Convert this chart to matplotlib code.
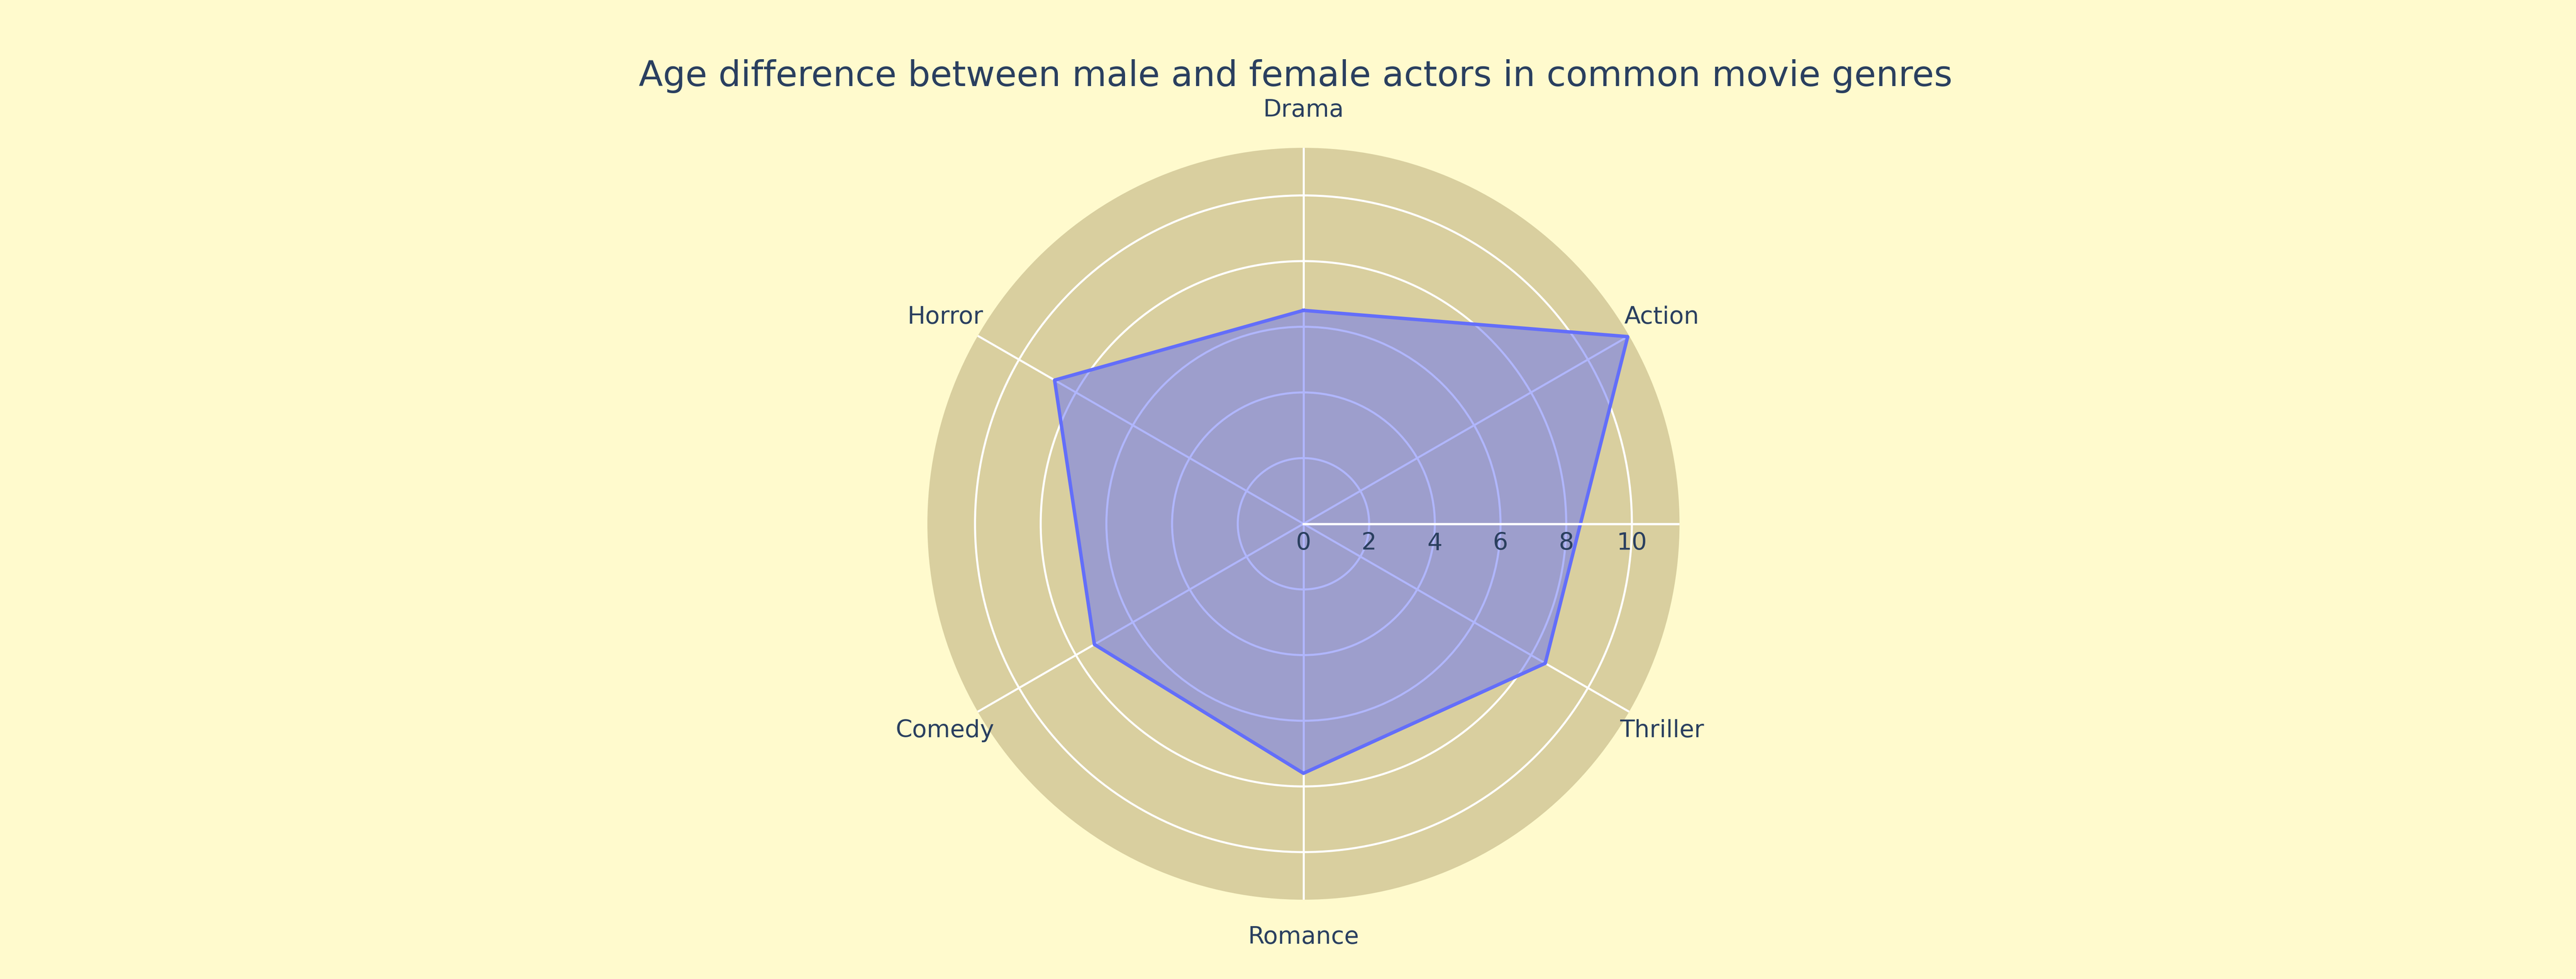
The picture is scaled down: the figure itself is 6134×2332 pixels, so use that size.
import numpy as np
import matplotlib.pyplot as plt

genres = ["Drama", "Action", "Thriller", "Romance", "Comedy", "Horror"]
age_diff = [6.5, 11.4, 8.5, 7.6, 7.35, 8.75]
rticks = [0, 2, 4, 6, 8, 10]
rmax = 11.45

txt = "#2a3f5f"
fig = plt.figure(figsize=(6134 / 391.2, 2332 / 391.2), dpi=391.2, facecolor="#fffacd")
ax = fig.add_axes([0.36, 0.081, 0.292, 0.768], projection="polar")
ax.set_facecolor("#d9cf9f")
ax.set_theta_zero_location("N")
ax.set_theta_direction(-1)
ang = np.linspace(0, 2 * np.pi, len(genres), endpoint=False)
closed_a = np.append(ang, ang[0])
closed_v = age_diff + age_diff[:1]
ax.fill(closed_a, closed_v, color="#636efa", alpha=0.5, zorder=3, lw=0)
ax.plot(closed_a, closed_v, color="#636efa", lw=1.5, zorder=4)
ax.set_ylim(0, rmax)
ax.set_xticks(ang)
ax.set_xticklabels(genres, color=txt, fontsize=10.5)
ax.tick_params(axis="x", pad=6)
ax.set_yticks(rticks[1:])
ax.set_yticklabels([])
ax.grid(color="white", lw=0.9, zorder=2)
ax.spines["polar"].set_visible(False)
ax.plot([np.pi / 2, np.pi / 2], [0, rmax], color="white", lw=1, zorder=5)
for r in rticks:
    ax.text(np.pi / 2, r, str(r), transform=ax.transData, color=txt, fontsize=10.5,
            ha="center", va="top", zorder=6)
# nudge radial labels below the axis line
for t in ax.texts:
    t.set_transform(ax.transData + __import__("matplotlib").transforms.ScaledTranslation(0, -0.05, fig.dpi_scale_trans))
fig.text(0.503, 0.922, "Age difference between male and female actors in common movie genres",
         ha="center", va="center", color=txt, fontsize=15.5)
fig.savefig("out.png", facecolor=fig.get_facecolor())
